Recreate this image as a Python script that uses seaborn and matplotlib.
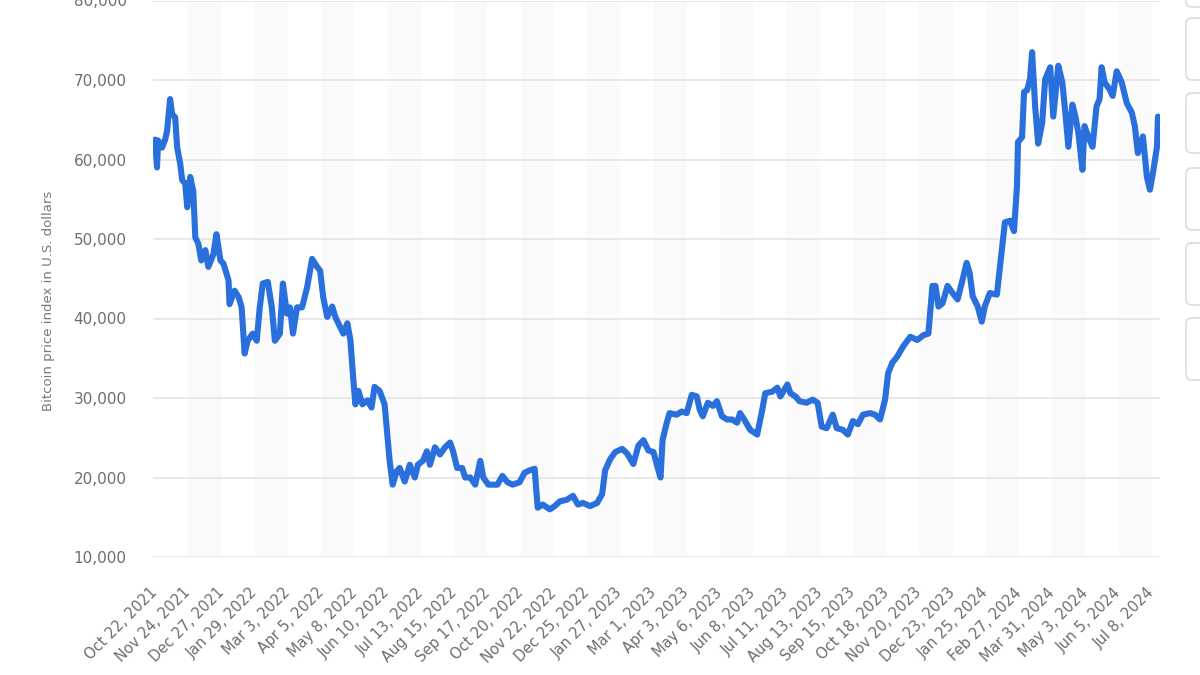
import matplotlib
matplotlib.use("Agg")
import numpy as np
import pandas as pd
import matplotlib.pyplot as plt
import matplotlib.transforms as mtransforms
from matplotlib.patches import FancyBboxPatch
import seaborn as sns

# ---------------- data ----------------
start_date = "2021-10-22"
day_offsets = [
    0, 2, 3, 7, 10, 12, 15, 17, 20, 22, 25, 27, 30, 32, 35, 38, 40, 43, 46, 50,
    53, 58, 61, 65, 68, 73, 74, 79, 83, 86, 89, 92, 97, 101, 104, 107, 112, 116, 119, 124,
    127, 131, 134, 137, 141, 146, 151, 156, 161, 164, 167, 171, 176, 179, 184, 187, 191, 194, 197, 199,
    202, 206, 211, 215, 218, 223, 228, 231, 233, 236, 240, 243, 248, 253, 258, 261, 266, 270, 273, 278,
    283, 288, 293, 296, 300, 305, 308, 313, 318, 323, 326, 331, 336, 340, 345, 350, 355, 362, 367, 372,
    377, 380, 385, 392, 397, 402, 409, 415, 420, 425, 432, 439, 444, 447, 452, 457, 464, 469, 475, 480,
    485, 490, 495, 499, 502, 504, 508, 511, 518, 523, 528, 533, 538, 541, 544, 549, 554, 558, 563, 568,
    573, 578, 581, 586, 591, 598, 603, 606, 613, 618, 621, 628, 631, 636, 640, 647, 653, 658, 662, 667,
    673, 677, 683, 688, 693, 698, 703, 710, 715, 720, 725, 728, 732, 737, 743, 750, 757, 763, 768, 772,
    775, 778, 782, 787, 792, 797, 802, 806, 809, 812, 817, 821, 824, 829, 836, 841, 844, 849, 853, 856,
    857, 861, 863, 866, 869, 871, 874, 877, 881, 884, 889, 892, 897, 901, 904, 907, 911, 914, 917, 921,
    923, 928, 931, 935, 938, 940, 943, 948, 951, 955, 960, 965, 970, 973, 976, 981, 985, 988, 991, 995,
    996,
]
prices_usd = [
    62500, 59000, 62400, 61500, 62500, 63600, 67600, 65700, 65300, 61500, 59500, 57400, 57000, 54000, 57800, 56000, 50200, 49400, 47300, 48600,
    46500, 48100, 50600, 47300, 46900, 44800, 41800, 43500, 42700, 41400, 35600, 37200, 38100, 37200, 41400, 44400, 44600, 41400, 37200, 38100,
    44400, 40600, 41400, 38100, 41400, 41400, 43900, 47500, 46500, 46000, 42700, 40200, 41500, 40200, 38900, 38100, 39400, 37300, 32200, 29200,
    30900, 29200, 29700, 28800, 31400, 30900, 29200, 25000, 22100, 19100, 20800, 21200, 19500, 21600, 20000, 21600, 22100, 23300, 21600, 23800,
    22900, 23800, 24400, 23300, 21200, 21200, 20000, 20000, 19100, 22100, 20000, 19100, 19100, 19100, 20200, 19400, 19100, 19400, 20600, 20900,
    21100, 16200, 16600, 16000, 16400, 17000, 17200, 17700, 16600, 16800, 16400, 16800, 17900, 20900, 22300, 23200, 23600, 23000, 21700, 24000,
    24700, 23400, 23200, 21300, 20000, 24700, 26800, 28100, 27900, 28300, 28100, 30400, 30200, 28500, 27700, 29400, 29000, 29600, 27700, 27300,
    27300, 26900, 28100, 27100, 26000, 25400, 28500, 30600, 30800, 31300, 30200, 31700, 30600, 30200, 29600, 29400, 29800, 29400, 26400, 26200,
    27900, 26200, 26000, 25400, 27100, 26700, 27900, 28100, 27900, 27300, 29800, 33100, 34400, 35200, 36500, 37700, 37300, 37900, 38100, 44100,
    44100, 41500, 41900, 44100, 43200, 42400, 44900, 47000, 45700, 42800, 41500, 39600, 41500, 43200, 43000, 48700, 52100, 52300, 51000, 56700,
    62200, 62800, 68500, 68700, 70200, 73500, 66700, 62000, 64600, 70100, 71600, 65400, 71800, 69700, 65900, 61600, 66900, 65400, 63300, 58700,
    64200, 62500, 61600, 66700, 67600, 71600, 69700, 68800, 68000, 71100, 69700, 67100, 65900, 64200, 60800, 62900, 57800, 56200, 58300, 61600,
    65400,
]
tick_labels = [
    "Oct 22, 2021", "Nov 24, 2021", "Dec 27, 2021", "Jan 29, 2022", "Mar 3, 2022",
    "Apr 5, 2022", "May 8, 2022", "Jun 10, 2022", "Jul 13, 2022", "Aug 15, 2022",
    "Sep 17, 2022", "Oct 20, 2022", "Nov 22, 2022", "Dec 25, 2022", "Jan 27, 2023",
    "Mar 1, 2023", "Apr 3, 2023", "May 6, 2023", "Jun 8, 2023", "Jul 11, 2023",
    "Aug 13, 2023", "Sep 15, 2023", "Oct 18, 2023", "Nov 20, 2023", "Dec 23, 2023",
    "Jan 25, 2024", "Feb 27, 2024", "Mar 31, 2024", "May 3, 2024", "Jun 5, 2024",
    "Jul 8, 2024",
]
y_ticks = [10000, 20000, 30000, 40000, 50000, 60000, 70000, 80000]
y_label = "Bitcoin price index in U.S. dollars"

# ---------------- build frame ----------------
start = pd.Timestamp(start_date)
df = pd.DataFrame({
    "date": start + pd.to_timedelta(day_offsets, unit="D"),
    "price": prices_usd,
})
tick_dates = pd.to_datetime(tick_labels, format="%b %d, %Y")

# ---------------- style ----------------
sns.set_theme(style="white")
plt.rcParams["font.family"] = ["DejaVu Sans"]

W, H, DPI = 1200, 675, 100
fig = plt.figure(figsize=(W / DPI, H / DPI), dpi=DPI, facecolor="white")
ax = fig.add_axes([153 / W, 1 - 557 / H, (1160 - 153) / W, (557 - 0.5) / H])

# alternating vertical bands (very faint)
for i in range(1, len(tick_dates) - 1, 2):
    ax.axvspan(tick_dates[i], tick_dates[i + 1], color="#fafafa", zorder=0, lw=0)

sns.lineplot(data=df, x="date", y="price", ax=ax, color="#2a70dc",
             linewidth=4.4, solid_joinstyle="round", solid_capstyle="round", zorder=3)

ax.set_ylim(y_ticks[0], y_ticks[-1])
ax.set_xlim(start - pd.Timedelta(days=2), start + pd.Timedelta(days=998))
ax.set_yticks(y_ticks)
ax.set_yticklabels([f"{v:,}" for v in y_ticks])
ax.set_xticks(tick_dates)
ax.set_xticklabels(tick_labels, rotation=45, ha="right", va="center",
                   rotation_mode="anchor")

ax.yaxis.grid(True, color="#e4e4e4", linewidth=1.2, zorder=1)
ax.xaxis.grid(False)
ax.set_axisbelow(True)
for s in ax.spines.values():
    s.set_visible(False)
ax.tick_params(axis="y", length=0, pad=19, labelsize=11, labelcolor="#6e6e6e")
ax.tick_params(axis="x", length=0, pad=24, labelsize=10.5, labelcolor="#6e6e6e")

ax.set_xlabel("")
ax.set_ylabel(y_label, fontsize=9.5, color="#777777")
ax.yaxis.set_label_coords(-0.097, 0.46)

# cropped toolbar buttons at right edge (decorative)
ident = mtransforms.IdentityTransform()
for (y0, y1) in [(-40, 7), (18, 80), (93, 153), (168, 230), (243, 305), (318, 380)]:
    box = FancyBboxPatch((1186, H - y1), 40, y1 - y0, boxstyle="round,pad=0,rounding_size=6",
                         transform=ident, facecolor="white", edgecolor="#dcdcdc", lw=1.2,
                         zorder=5)
    fig.add_artist(box)

fig.savefig("out.png", dpi=DPI, facecolor="white")
